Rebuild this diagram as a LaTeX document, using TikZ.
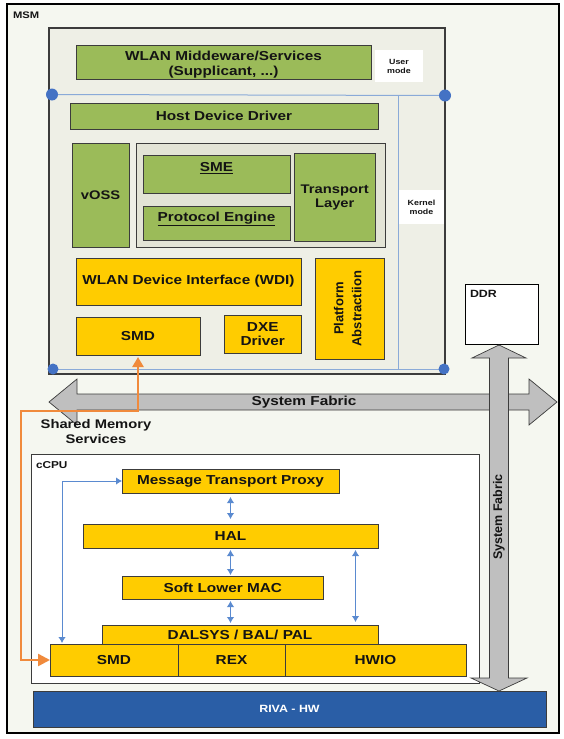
\documentclass[tikz,border=0pt]{standalone}
\usepackage{fontspec}
\setmainfont{Liberation Sans}[FakeStretch=1.18]
\newfontfamily\rotfont{Liberation Sans}
\usetikzlibrary{arrows.meta}
\definecolor{grn}{HTML}{9BBB59}
\definecolor{ylw}{HTML}{FFCC00}
\definecolor{rivab}{HTML}{2A5EA6}
\definecolor{bgc}{HTML}{F5F7F0}
\definecolor{msmc}{HTML}{EEEFE6}
\definecolor{contc}{HTML}{E3E4D6}
\definecolor{lblue}{HTML}{8AAAD8}
\definecolor{dblue}{HTML}{4472C4}
\definecolor{barc}{HTML}{5A8AD0}
\definecolor{orng}{HTML}{F08A3C}
\definecolor{fabc}{HTML}{BFBFBF}
\definecolor{edge}{HTML}{3C3C3C}
\definecolor{txt}{HTML}{141414}
\begin{document}
\begin{tikzpicture}[x=1pt,y=-1pt,
  sz/.style 2 args={minimum width=#1pt, minimum height=#2pt},
  box/.style={draw=edge, line width=0.9pt, inner sep=0pt, outer sep=0pt, align=center, text=txt,
              font=\bfseries\fontsize{13}{15.5}\selectfont},
  gbox/.style={box, fill=grn},
  ybox/.style={box, fill=ylw},
  wbox/.style={fill=white, inner sep=0pt, outer sep=0pt, align=center, text=txt,
               font=\bfseries\fontsize{7.5}{9}\selectfont},
  lbl/.style={inner sep=0pt, outer sep=0pt, align=center, text=txt, font=\bfseries\fontsize{13}{15.5}\selectfont},
  barrow/.style={draw=barc, line width=1pt, {Latex[length=6pt,width=7.5pt]}-{Latex[length=6pt,width=7.5pt]}},
  fabric/.style={fill=fabc, draw=edge, line width=0.7pt, line join=miter}
]
\useasboundingbox (0,0) rectangle (564,739);

% outer MSM frame
\node[draw=black, line width=1.4pt, fill=bgc, sz={552}{729}, inner sep=0pt] (frame) at (283,368.5) {};
\node[lbl, anchor=west, font=\bfseries\fontsize{9.5}{11}\selectfont] (msmlbl) at (13,15) {MSM};

% inner MSM box
\node[draw=edge, line width=1.1pt, fill=msmc, sz={396}{346}, inner sep=0pt] (msm) at (247,201) {};

\node[gbox, sz={295}{34}] (wlanmw) at (223.5,62) {};
\node[lbl] (wlanmwt) at ([yshift=-2.5pt]wlanmw.center) {WLAN Middeware/Services\\(Supplicant, ...)};
\node[wbox, sz={48}{32}] (user) at (399,66) {User\\mode};

\node[gbox, sz={308}{26}] (hdd) at (224,116) {Host Device Driver};
\node[gbox, sz={57}{104}, font=\bfseries\fontsize{12.5}{14}\selectfont] (voss) at (100.5,195) {vOSS};
\node[box, fill=contc, sz={248.5}{104}] (cont) at (260.75,195) {};
\node[gbox, sz={147}{38}] (sme) at (216.5,174) {};
\node[lbl] (smet) at ([yshift=6pt]sme.center) {\underline{SME}};
\node[gbox, sz={147}{34}] (pe) at (216.5,223) {};
\node[lbl] (pet) at ([yshift=4pt]pe.center) {\underline{Protocol Engine}};
\node[gbox, sz={81.5}{88}, font=\bfseries\fontsize{12.5}{14}\selectfont] (tl) at (334.75,197) {Transport\\Layer};
\node[wbox, sz={45}{34}] (kernel) at (421.5,207) {Kernel\\mode};

\node[ybox, sz={225}{47}] (wdi) at (188.5,281.5) {WLAN Device Interface (WDI)};
\node[ybox, sz={124}{38}] (smd1) at (138,336) {SMD};
\node[ybox, sz={77.5}{38}, font=\bfseries\fontsize{13}{14.5}\selectfont] (dxe) at (262.75,334) {DXE\\Driver};
\node[ybox, sz={69.5}{101}] (pa) at (349.75,308.5) {};
\node[lbl, rotate=90, font=\rotfont\bfseries\fontsize{13}{18}\selectfont] (pat) at ([xshift=-2pt]pa.center) {Platform\\Abstractiion};

% user / kernel mode separators
\coordinate (d1) at (52,94.5);
\coordinate (d2) at (445,95.5);
\coordinate (d3) at (53,369);
\coordinate (d4) at (444,369);
\coordinate (vt) at (398,95.5);
\coordinate (vb) at (398,369);
\draw[lblue, line width=1pt] (d1) -- (d2);
\draw[lblue, line width=1pt] (d3) -- (d4);
\draw[lblue, line width=1pt] (vt) -- (vb);
\fill[dblue] (d1) circle (6);
\fill[dblue] (d2) circle (6);
\fill[dblue] (d3) circle (5.5);
\fill[dblue] (d4) circle (5.5);

% DDR
\node[draw=black, line width=0.9pt, fill=white, sz={73}{60}, inner sep=0pt] (ddr) at (501.5,314) {};
\node[lbl, anchor=west, font=\bfseries\fontsize{10.5}{12}\selectfont] (ddrt) at (470,294) {DDR};

% cCPU
\node[draw=edge, line width=0.9pt, fill=white, sz={448}{229}, inner sep=0pt] (ccpu) at (255,568.5) {};
\node[lbl, anchor=west, font=\bfseries\fontsize{10}{12}\selectfont] (ccput) at (36,465) {cCPU};

\node[ybox, sz={217}{24}] (mtp) at (230.5,481) {Message Transport Proxy};
\node[ybox, sz={295}{24}] (hal) at (230.5,536) {HAL};
\node[ybox, sz={201.5}{23}] (slm) at (222.75,587.5) {Soft Lower MAC};
\node[ybox, sz={276}{19}] (dal) at (240,634.5) {DALSYS / BAL/ PAL};
\node[ybox, sz={128}{32}] (smd2) at (114,660) {SMD};
\node[ybox, sz={107}{32}] (rex) at (231.5,660) {REX};
\node[ybox, sz={181}{32}] (hwio) at (375.5,660) {HWIO};

% RIVA
\node[box, fill=rivab, sz={513}{36}, text=white, font=\bfseries\fontsize{10.5}{12}\selectfont] (riva) at (289.5,709) {RIVA - HW};

% blue arrows in cCPU
\draw[barrow] ([yshift=-4pt]mtp.south) -- ([yshift=5pt]hal.north);
\draw[barrow] ([yshift=-2pt]hal.south) -- ([yshift=1pt]hal.south |- slm.north);
\draw[barrow] ([yshift=-2pt]hal.south |- slm.south) -- ([yshift=2pt]hal.south |- dal.north);
\draw[barrow] ([xshift=-22.5pt,yshift=-2pt]hal.south east) -- ([xshift=-22.5pt,yshift=3pt]dal.north east);
\draw[barrow] (mtp.west) -| ([xshift=12pt,yshift=1pt]smd2.north west);

% System Fabric (horizontal)
\draw[fabric] (49,402) -- (77,379) -- (77,394) -- (529,394) -- (529,379) -- (557,402)
   -- (529,425) -- (529,410) -- (77,410) -- (77,425) -- cycle;
\node[lbl] (sfh) at (304,402) {System Fabric};

% System Fabric (vertical)
\draw[fabric] (499,345) -- (526,358) -- (508.5,358) -- (508.5,678) -- (527,678) -- (499,691)
   -- (471,678) -- (489.5,678) -- (489.5,358) -- (472,358) -- cycle;
\node[lbl, rotate=90, font=\rotfont\bfseries\fontsize{12.5}{14}\selectfont] (sfv) at (499,517) {System Fabric};

% Shared memory services
\node[lbl, font=\bfseries\fontsize{12.5}{15}\selectfont] (sms) at (96,432) {Shared Memory\\Services};

% orange link
\coordinate (o1) at (21,411);
\draw[orng, line width=2.5pt, {Triangle[length=10pt,width=11pt]}-{Triangle[length=12pt,width=12pt]}]
  ([yshift=-2pt]smd1.south) |- (o1) |- (smd2.west);
\end{tikzpicture}
\end{document}
